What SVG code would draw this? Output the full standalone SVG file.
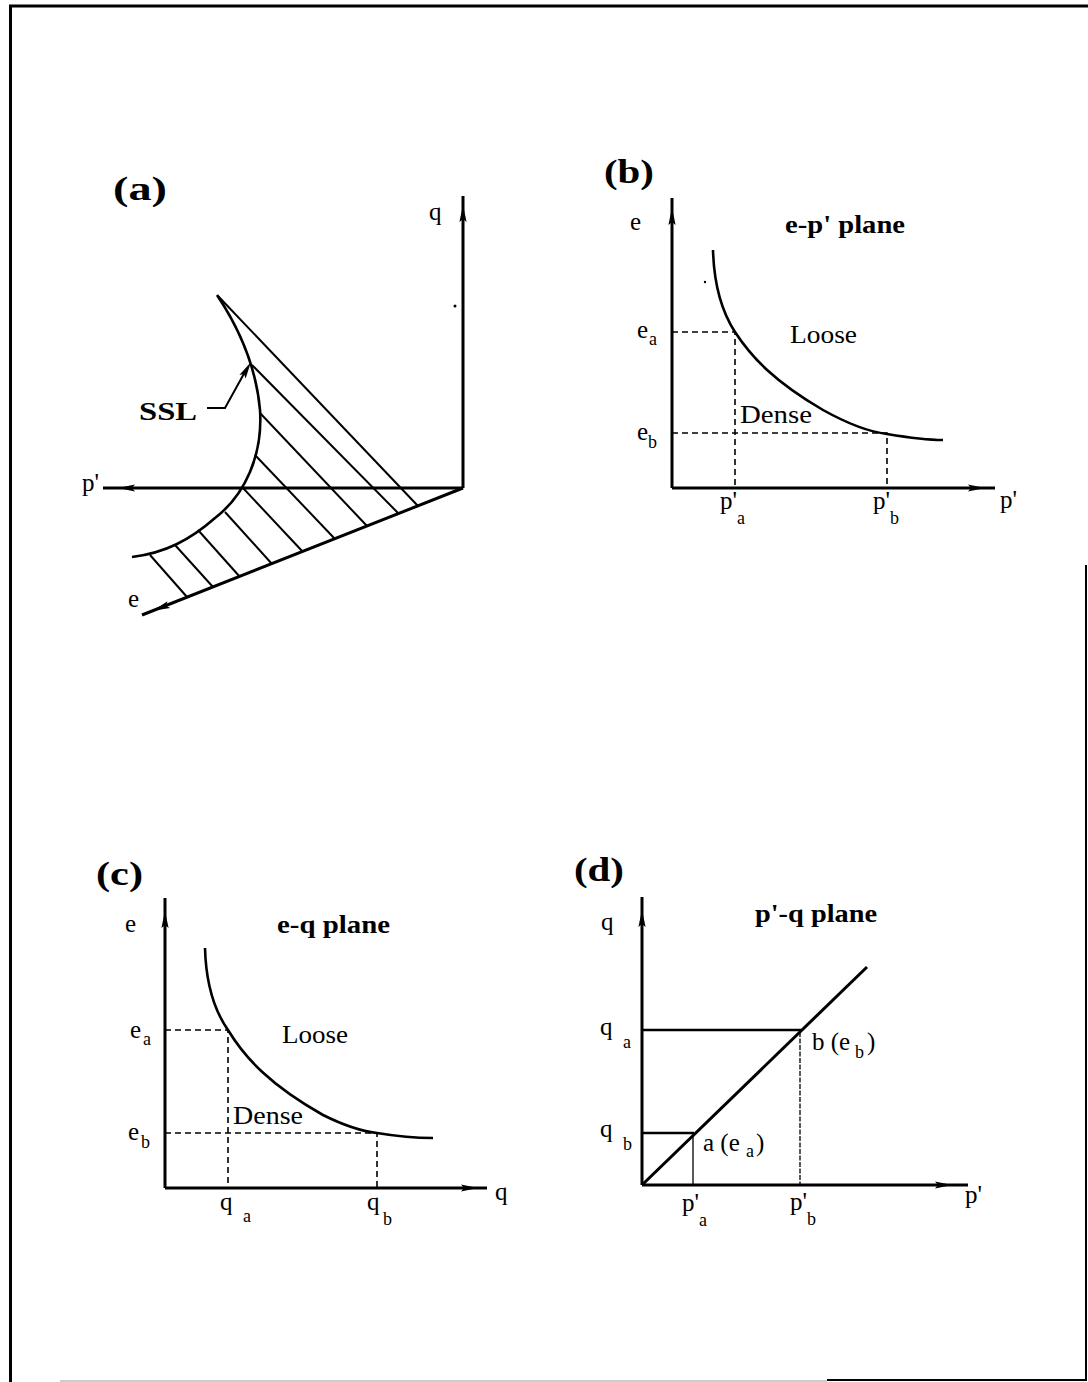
<svg xmlns="http://www.w3.org/2000/svg" xmlns:xlink="http://www.w3.org/1999/xlink" width="1088" height="1382" viewBox="0 0 1088 1382">
<style>
.ax{stroke:#000;stroke-width:3;fill:none}
.cv{stroke:#000;stroke-width:2.6;fill:none}
.ht{stroke:#000;stroke-width:2;fill:none}
.ds{stroke:#000;stroke-width:1.6;stroke-dasharray:6 4;fill:none}
.thin{stroke:#000;stroke-width:1.3;fill:none}
.brd{stroke:#000;fill:none}
text{font-family:"Liberation Serif","Times New Roman",serif;fill:#000}
.t{font-size:25px}
.b{font-weight:bold}
.sub{font-size:18px}
.pl{font-size:34px;font-weight:bold}
</style>
<defs>
<path id="ah" d="M0,0 L-17,-3.6 L-14,0 L-17,3.6 z" fill="#000"/>
</defs>
<rect width="1088" height="1382" fill="#fff"/>

<g id="frame">
<line class="brd" x1="10.5" y1="5" x2="10.5" y2="1382" stroke-width="3"/>
<line class="brd" x1="9" y1="6" x2="1088" y2="6" stroke-width="3"/>
<line class="brd" x1="1086" y1="565" x2="1086" y2="1381" stroke-width="2"/>
<line class="brd" x1="827" y1="1380" x2="1087" y2="1380" stroke-width="2"/>
<line x1="60" y1="1381" x2="827" y2="1381" stroke="#bbb" stroke-width="1.5"/>
</g>

<g id="panel-a">
<text class="pl" x="113" y="200" textLength="54" lengthAdjust="spacingAndGlyphs">(a)</text>
<line class="ax" x1="463" y1="488" x2="463" y2="196"/>
<line class="ax" x1="463" y1="488" x2="103" y2="488"/>
<line class="ax" x1="463" y1="488" x2="142" y2="615"/>
<use xlink:href="#ah" transform="translate(463,205) rotate(-90)"/>
<use xlink:href="#ah" transform="translate(118,488) rotate(180)"/>
<use xlink:href="#ah" transform="translate(153,610.8) rotate(158.4)"/>
<text class="t" x="429" y="220">q</text>
<text class="t" x="82" y="491">p'</text>
<text class="t" x="128" y="607">e</text>
<circle cx="455" cy="306" r="1.5" fill="#000"/>
<path class="cv" d="M217,295 C237,325 256,365 260,410 C263,455 245,495 215,518 C190,540 165,553 132,557"/>
<g id="hatch">
<line class="ht" x1="218" y1="296" x2="418" y2="506"/>
<line class="ht" x1="252" y1="365" x2="398" y2="513"/>
<line class="ht" x1="260" y1="413" x2="367" y2="526"/>
<line class="ht" x1="255" y1="455" x2="335" y2="539"/>
<line class="ht" x1="243" y1="488" x2="303" y2="552"/>
<line class="ht" x1="225" y1="512" x2="272" y2="564"/>
<line class="ht" x1="198" y1="530" x2="240" y2="577"/>
<line class="ht" x1="175" y1="545" x2="213" y2="587"/>
<line class="ht" x1="150" y1="555" x2="187" y2="597"/>
</g>
<text class="t b" x="139" y="420" font-size="28" textLength="58" lengthAdjust="spacingAndGlyphs">SSL</text>
<polyline class="ht" points="207,408 225,408 246,370"/>
<use xlink:href="#ah" transform="translate(251,362) rotate(-60)"/>
</g>

<g id="panel-b">
<text class="pl" x="604" y="183" textLength="50" lengthAdjust="spacingAndGlyphs">(b)</text>
<line class="ax" x1="672" y1="488" x2="672" y2="198"/>
<line class="ax" x1="672" y1="488" x2="995" y2="488"/>
<use xlink:href="#ah" transform="translate(672,208) rotate(-90)"/>
<use xlink:href="#ah" transform="translate(985,488)"/>
<text class="t" x="630" y="230">e</text>
<text class="t b" x="785" y="233" textLength="120" lengthAdjust="spacingAndGlyphs">e-p' plane</text>
<circle cx="705" cy="282" r="1.2" fill="#000"/>
<path class="cv" d="M713,250 C714,285 722,312 735,332 C752,358 775,382 823,410 C850,425 870,432 887,434 C905,437 925,440 943,440"/>
<polyline class="ds" points="672,332 735,332 735,487"/>
<polyline class="ds" points="672,433 887,433 887,487"/>
<text class="t" x="790" y="343" textLength="67" lengthAdjust="spacingAndGlyphs">Loose</text>
<text class="t" x="740" y="423" textLength="72" lengthAdjust="spacingAndGlyphs">Dense</text>
<text class="t" x="637" y="338">e<tspan class="sub" x="649" y="345">a</tspan></text>
<text class="t" x="637" y="440">e<tspan class="sub" x="648" y="448">b</tspan></text>
<text class="t" x="720" y="509">p'<tspan class="sub" x="737" y="524">a</tspan></text>
<text class="t" x="873" y="509">p'<tspan class="sub" x="890" y="524">b</tspan></text>
<text class="t" x="1000" y="508">p'</text>
</g>

<g id="panel-c">
<text class="pl" x="96" y="885" textLength="47" lengthAdjust="spacingAndGlyphs">(c)</text>
<line class="ax" x1="165" y1="1188" x2="165" y2="898"/>
<line class="ax" x1="165" y1="1188" x2="487" y2="1188"/>
<use xlink:href="#ah" transform="translate(165,911) rotate(-90)"/>
<use xlink:href="#ah" transform="translate(478,1188)"/>
<text class="t" x="125" y="932">e</text>
<text class="t b" x="277" y="933" textLength="113" lengthAdjust="spacingAndGlyphs">e-q plane</text>
<path class="cv" d="M205,948 C206,985 214,1010 228,1030 C245,1058 270,1085 323,1115 C345,1126 360,1131 377,1133 C395,1136 415,1138 433,1138"/>
<polyline class="ds" points="165,1030 228,1030 228,1188"/>
<polyline class="ds" points="165,1133 377,1133 377,1188"/>
<text class="t" x="282" y="1043" textLength="66" lengthAdjust="spacingAndGlyphs">Loose</text>
<text class="t" x="233" y="1124" textLength="70" lengthAdjust="spacingAndGlyphs">Dense</text>
<text class="t" x="130" y="1038">e<tspan class="sub" x="143" y="1045">a</tspan></text>
<text class="t" x="128" y="1140">e<tspan class="sub" x="141" y="1148">b</tspan></text>
<text class="t" x="220" y="1210">q<tspan class="sub" x="243" y="1222">a</tspan></text>
<text class="t" x="367" y="1210">q<tspan class="sub" x="383" y="1225">b</tspan></text>
<text class="t" x="495" y="1200">q</text>
</g>

<g id="panel-d">
<text class="pl" x="574" y="881" textLength="50" lengthAdjust="spacingAndGlyphs">(d)</text>
<line class="ax" x1="642" y1="1185" x2="642" y2="897"/>
<line class="ax" x1="642" y1="1185" x2="968" y2="1185"/>
<use xlink:href="#ah" transform="translate(642,910) rotate(-90)"/>
<use xlink:href="#ah" transform="translate(952,1185)"/>
<text class="t" x="601" y="930">q</text>
<text class="t b" x="755" y="922" textLength="122" lengthAdjust="spacingAndGlyphs">p'-q plane</text>
<line class="ax" x1="642" y1="1185" x2="867" y2="967"/>
<line class="cv" x1="642" y1="1030" x2="801" y2="1030"/>
<line class="cv" x1="642" y1="1133" x2="694" y2="1133"/>
<line class="thin" x1="800" y1="1032" x2="800" y2="1185" stroke-dasharray="5 1.5"/>
<line class="thin" x1="693" y1="1136" x2="693" y2="1185"/>
<text class="t" x="812" y="1050">b (e<tspan class="sub" x="855" y="1058">b</tspan><tspan x="867" y="1050">)</tspan></text>
<text class="t" x="703" y="1151">a (e<tspan class="sub" x="746" y="1157">a</tspan><tspan x="756" y="1151">)</tspan></text>
<text class="t" x="600" y="1035">q<tspan class="sub" x="623" y="1048">a</tspan></text>
<text class="t" x="600" y="1137">q<tspan class="sub" x="623" y="1150">b</tspan></text>
<text class="t" x="682" y="1211">p'<tspan class="sub" x="699" y="1226">a</tspan></text>
<text class="t" x="790" y="1210">p'<tspan class="sub" x="807" y="1225">b</tspan></text>
<text class="t" x="965" y="1203">p'</text>
</g>
</svg>
